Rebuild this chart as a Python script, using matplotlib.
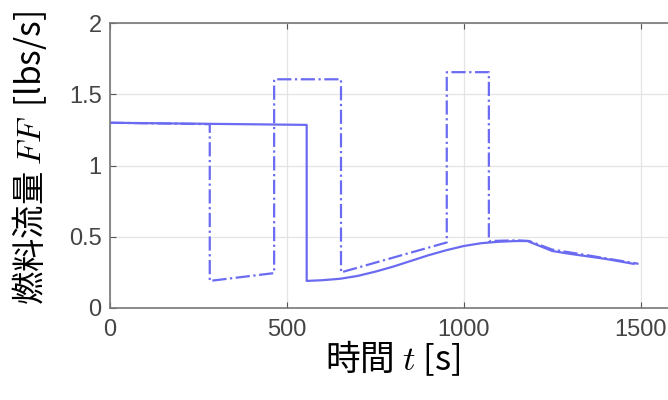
import numpy as np
import matplotlib.pyplot as plt

plt.rcParams['font.family'] = ['Noto Sans CJK JP', 'DejaVu Sans']
plt.rcParams['mathtext.fontset'] = 'cm'

# fuel flow, solid case
t_solid = [0, 556, 556, 600, 650, 700, 750, 800, 850, 900, 950, 1000,
           1050, 1100, 1150, 1180, 1210, 1250, 1300, 1400, 1480]
ff_solid = [1.30, 1.285, 0.19, 0.195, 0.205, 0.225, 0.255, 0.29, 0.33, 0.37,
            0.405, 0.435, 0.455, 0.465, 0.47, 0.47, 0.44, 0.40, 0.38, 0.345, 0.31]

# fuel flow, dash-dot case
t_dash = [0, 282, 282, 464, 464, 653, 653, 952, 952, 1071, 1071, 1150,
          1185, 1250, 1350, 1494]
ff_dash = [1.30, 1.29, 0.19, 0.245, 1.605, 1.605, 0.25, 0.46, 1.655, 1.655,
           0.47, 0.475, 0.47, 0.41, 0.37, 0.31]

xticks = [0, 500, 1000, 1500]
yticks = [0, 0.5, 1, 1.5, 2]
ytick_labels = ['0', '0.5', '1', '1.5', '2']

fig = plt.figure(figsize=(6.68, 4.0), dpi=100)
ax = fig.add_axes([110 / 668, 1 - 308 / 400, 566 / 668, 285 / 400])

line_col = '#6b6bf2'
ax.plot(t_solid, ff_solid, '-', color=line_col, lw=1.6)
ax.plot(t_dash, ff_dash, '-.', color=line_col, lw=1.6)

ax.set_xlim(0, 1600)
ax.set_ylim(0, 2)
ax.set_xticks(xticks)
ax.set_yticks(yticks)
ax.set_yticklabels(ytick_labels)
ax.grid(True, color='#e4e4e4', lw=0.9)
ax.set_axisbelow(True)
ax.tick_params(direction='in', length=4, width=0.8, color='#555555',
               labelcolor='#444444', labelsize=17, top=True, right=True)
ax.tick_params(axis='x', pad=8)
ax.tick_params(axis='y', pad=6)
for lab in ax.get_xticklabels() + ax.get_yticklabels():
    lab.set_family(['Liberation Sans', 'DejaVu Sans'])
for s in ax.spines.values():
    s.set_color('#777777')
    s.set_linewidth(1.2)

ax.set_xlabel('時間 $t$ [s]', fontsize=25, labelpad=-2)
ax.set_ylabel('燃料流量 $FF$  [lbs/s]', fontsize=24)
ax.yaxis.set_label_coords(-0.108, 0.525)

fig.savefig('out.png', dpi=100)
